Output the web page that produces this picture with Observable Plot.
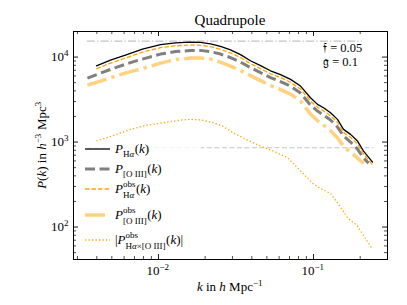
<!DOCTYPE html>
<html><head><meta charset="utf-8">
<script src="https://cdn.jsdelivr.net/npm/d3@7"></script>
<script src="https://cdn.jsdelivr.net/npm/@observablehq/plot@0.6"></script>
<style>body{margin:0;background:#fff} svg{display:block}</style>
</head><body><div id="chart"></div>
<script>
// ---- data ----
const kHa = [0.00398,0.0049,0.00612,0.00788,0.0103,0.01287,0.01608,0.01866,0.02165,0.0251,0.02914,0.0338,0.0392,0.0455,0.0528,0.0612,0.0711,0.0824,0.0956,0.1061,0.116,0.1287,0.1428,0.1561,0.1733,0.1922,0.2102,0.2402];
const PHa = [7900,9220,10560,12420,14030,14690,15020,14890,14340,13360,12180,10700,9050,7940,6900,6230,5465,4560,3320,2777,2532,2212,1850,1411,1232,1027,784,582];
const PHaObs = [7280,8500,9720,11450,12900,13550,13870,13760,13250,12320,11230,9870,8360,7330,6360,5760,5040,4200,3050,2560,2330,2040,1700,1300,1135,945,722,540];
const kO3 = [0.00348,0.00423,0.00528,0.0066,0.00788,0.0103,0.01287,0.01608,0.01866,0.02165,0.0251,0.02914,0.0338,0.0392,0.0455,0.0528,0.0612,0.0711,0.0824,0.0956,0.1061,0.116,0.1287,0.1428,0.1561,0.1733,0.1922,0.2102,0.2264];
const PO3 = [5660,6480,7520,8615,9470,10850,11610,11930,11990,11610,10850,9865,8735,7520,6570,5740,5150,4560,3770,2725,2315,2078,1815,1502,1177,1000,827,648,566];
const kO3Obs = [0.00348,0.00423,0.00528,0.0066,0.00788,0.0103,0.01287,0.01608,0.01866,0.02165,0.0251,0.02914,0.0338,0.0392,0.0455,0.0528,0.0612,0.0711,0.0824,0.0956,0.1061,0.116,0.1287,0.1428,0.1561,0.1733,0.1922,0.2102];
const PO3Obs = [4685,5220,5975,6750,7320,8500,9345,9730,9730,9470,8735,7840,6940,6060,5290,4620,4145,3670,3037,2135,1790,1585,1365,1115,897,763,648,560];
const kCross = [0.00398,0.00512,0.0066,0.00849,0.01077,0.01387,0.01608,0.01866,0.02264,0.02588,0.03047,0.03752,0.0455,0.0552,0.068,0.0788,0.0888,0.1,0.111,0.1287,0.1428,0.1657,0.1922,0.2133,0.2366];
const PCross = [1027,1193,1411,1585,1687,1815,1850,1825,1687,1543,1276,1056,897,784,654,498,398,320,284,248,193,128.6,102.7,76.3,57.1];
const noiseHaLevel = 15400, noiseHaRange = [0.00348, 0.207];
const noiseO3Level = 857, noiseO3Range = [0.00348, 0.245];
const xMajor = [0.01, 0.1], xMajorExp = ["\u22122", "\u22121"];
const yMajor = [100, 1000, 10000], yMajorExp = ["2", "3", "4"];
const xMinor = [0.003,0.004,0.005,0.006,0.007,0.008,0.009,0.02,0.03,0.04,0.05,0.06,0.07,0.08,0.09,0.2,0.3];
const yMinor = [50,60,70,80,90,200,300,400,500,600,700,800,900,2000,3000,4000,5000,6000,7000,8000,9000,20000];
const titleText = "Quadrupole";
const paramLines = ["\u{1D523} = 0.05", "\u{1D524} = 0.1"];

// ---- layout ----
const W = 407, H = 305, mL = 73, mR = 20, mT = 31, mB = 46;
const fw = W - mL - mR, fh = H - mT - mB;
const rows = (ks, ps) => ks.map((k, i) => ({k, p: ps[i]}));
const C = {ha: "#000000", o3: "#808080", haObs: "#ffa500", o3Obs: "#ffd280", cross: "#ffa500"};
const S = {
  ha: {stroke: C.ha, strokeWidth: 1.3},
  o3: {stroke: C.o3, strokeWidth: 3, strokeDasharray: "10,4.5", strokeLinecap: "butt"},
  haObs: {stroke: C.haObs, strokeWidth: 1.3, strokeDasharray: "4.5,2", strokeLinecap: "butt"},
  o3Obs: {stroke: C.o3Obs, strokeWidth: 3.5, strokeDasharray: "20,5,3.5,5", strokeLinecap: "butt"},
  cross: {stroke: C.cross, strokeWidth: 1.3, strokeDasharray: "1.3,2.2", strokeLinecap: "butt"}
};

const plot = Plot.plot({
  width: W, height: H, marginLeft: mL, marginRight: mR, marginTop: mT, marginBottom: mB,
  style: {background: "white", fontFamily: "Liberation Serif"},
  x: {type: "log", domain: [0.00283, 0.3], axis: null},
  y: {type: "log", domain: [41.5, 20000], axis: null},
  marks: [
    Plot.ruleY([noiseHaLevel], {y: d => d, x1: noiseHaRange[0], x2: noiseHaRange[1], stroke: "#c4c4c4", strokeWidth: 1.2, strokeDasharray: "8,2.2,1.3,2.2"}),
    Plot.ruleY([noiseO3Level], {y: d => d, x1: noiseO3Range[0], x2: noiseO3Range[1], stroke: "#c4c4c4", strokeWidth: 1.2, strokeDasharray: "5,2.5"}),
    Plot.line(rows(kHa, PHa), {x: "k", y: "p", ...S.ha}),
    Plot.line(rows(kO3, PO3), {x: "k", y: "p", ...S.o3}),
    Plot.line(rows(kHa, PHaObs), {x: "k", y: "p", ...S.haObs}),
    Plot.line(rows(kO3Obs, PO3Obs), {x: "k", y: "p", ...S.o3Obs}),
    Plot.line(rows(kCross, PCross), {x: "k", y: "p", ...S.cross}),
    Plot.tickX(xMajor, {x: d => d, insetTop: fh - 5, stroke: "black", strokeWidth: 0.9}),
    Plot.tickX(xMajor, {x: d => d, insetBottom: fh - 5, stroke: "black", strokeWidth: 0.9}),
    Plot.tickX(xMinor, {x: d => d, insetTop: fh - 3, stroke: "black", strokeWidth: 0.7}),
    Plot.tickX(xMinor, {x: d => d, insetBottom: fh - 3, stroke: "black", strokeWidth: 0.7}),
    Plot.tickY(yMajor, {y: d => d, insetRight: fw - 5, stroke: "black", strokeWidth: 0.9}),
    Plot.tickY(yMajor, {y: d => d, insetLeft: fw - 5, stroke: "black", strokeWidth: 0.9}),
    Plot.tickY(yMinor, {y: d => d, insetRight: fw - 3, stroke: "black", strokeWidth: 0.7}),
    Plot.tickY(yMinor, {y: d => d, insetLeft: fw - 3, stroke: "black", strokeWidth: 0.7}),
    Plot.frame({stroke: "black", strokeWidth: 1})
  ]
});
document.getElementById("chart").appendChild(plot);
const xs = plot.scale("x"), ys = plot.scale("y");
const svg = d3.select(plot);
const root = svg.append("g").attr("font-family", "Liberation Serif").attr("fill", "black").attr("text-anchor", "start");

// math-like text builder
function mathText(parent, x, y, parts, opts = {}) {
  const size = opts.size || 13, ss = opts.ss || 9;
  const g = parent.append("g").attr("text-anchor", "start");
  let cx = 0;
  function put(str, italic, fs, dy) {
    const t = g.append("text").attr("x", cx).attr("y", dy).attr("font-size", fs)
      .attr("text-anchor", "start").attr("font-style", italic ? "italic" : "normal")
      .style("white-space", "pre").text(str);
    return t.node().getComputedTextLength();
  }
  for (const p of parts) {
    if (p.t !== undefined) { cx += put(p.t, p.i, size, 0); }
    else {
      const start = cx; let w1 = 0, w2 = 0;
      if (p.sup) { cx = start; for (const q of p.sup) cx += put(q.t, q.i, ss, p.sub ? -6 : -5.5); w1 = cx - start; }
      if (p.sub) { cx = start; for (const q of p.sub) cx += put(q.t, q.i, ss, p.sup ? 4.5 : 3.5); w2 = cx - start; }
      cx = start + Math.max(w1, w2) + 0.5;
    }
  }
  const w = cx;
  if (opts.rotate) g.attr("transform", `translate(${x},${y}) rotate(-90) translate(${-w / 2},0)`);
  else {
    let ox = x;
    if (opts.anchor === "middle") ox = x - w / 2; else if (opts.anchor === "end") ox = x - w;
    g.attr("transform", `translate(${ox},${y})`);
  }
  return w;
}

// tick labels
xMajor.forEach((v, i) => mathText(root, xs.apply(v), 275, [{t: "10"}, {sup: [{t: xMajorExp[i]}]}], {anchor: "middle", size: 13, ss: 9}));
yMajor.forEach((v, i) => mathText(root, 69, ys.apply(v) + 4.5, [{t: "10"}, {sup: [{t: yMajorExp[i]}]}], {anchor: "end", size: 13, ss: 9}));

// title & axis labels
const cxF = mL + fw / 2;
root.append("text").attr("x", cxF).attr("y", 25).attr("text-anchor", "middle").attr("font-size", 15).text(titleText);
mathText(root, cxF, 291, [{t: "k", i: 1}, {t: " in "}, {t: "h", i: 1}, {t: " Mpc"}, {sup: [{t: "\u22121"}]}], {anchor: "middle", size: 13, ss: 9});
mathText(root, 46, mT + fh / 2, [{t: "P", i: 1}, {t: "("}, {t: "k", i: 1}, {t: ") in "}, {t: "h", i: 1}, {sup: [{t: "\u22123"}]}, {t: " Mpc"}, {sup: [{t: "3"}]}], {rotate: true, size: 13, ss: 9});

// parameters
paramLines.forEach((s, i) => root.append("text").attr("x", 323).attr("y", 52 + i * 14).attr("text-anchor", "start").attr("font-size", 12.5).text(s));

// legend
const leg = root.append("g");
leg.append("rect").attr("x", 80).attr("y", 141).attr("width", 121).attr("height", 110).attr("fill", "white").attr("fill-opacity", 0.78);
const PO = {t: "P", i: 1}, kk = [{t: "("}, {t: "k", i: 1}, {t: ")"}];
const legendItems = [
  {s: S.ha, y: 149, parts: [PO, {sub: [{t: "H"}, {t: "\u03b1", i: 1}]}, ...kk]},
  {s: S.o3, y: 169, parts: [PO, {sub: [{t: "[O III]"}]}, ...kk]},
  {s: S.haObs, y: 189, parts: [PO, {sup: [{t: "obs"}], sub: [{t: "H"}, {t: "\u03b1", i: 1}]}, ...kk]},
  {s: S.o3Obs, y: 215, parts: [PO, {sup: [{t: "obs"}], sub: [{t: "[O III]"}]}, ...kk]},
  {s: S.cross, y: 240, parts: [{t: "|"}, PO, {sup: [{t: "obs"}], sub: [{t: "H"}, {t: "\u03b1", i: 1}, {t: "\u00d7[O III]"}]}, ...kk, {t: "|"}]}
];
legendItems.forEach(it => {
  leg.append("line").attr("x1", 85).attr("x2", 110).attr("y1", it.y).attr("y2", it.y)
    .attr("stroke", it.s.stroke).attr("stroke-width", it.s.strokeWidth)
    .attr("stroke-dasharray", it.s.strokeDasharray || null).attr("stroke-linecap", "butt");
  mathText(leg, 115, it.y + 4, it.parts, {size: 13, ss: 9});
});
</script></body></html>
